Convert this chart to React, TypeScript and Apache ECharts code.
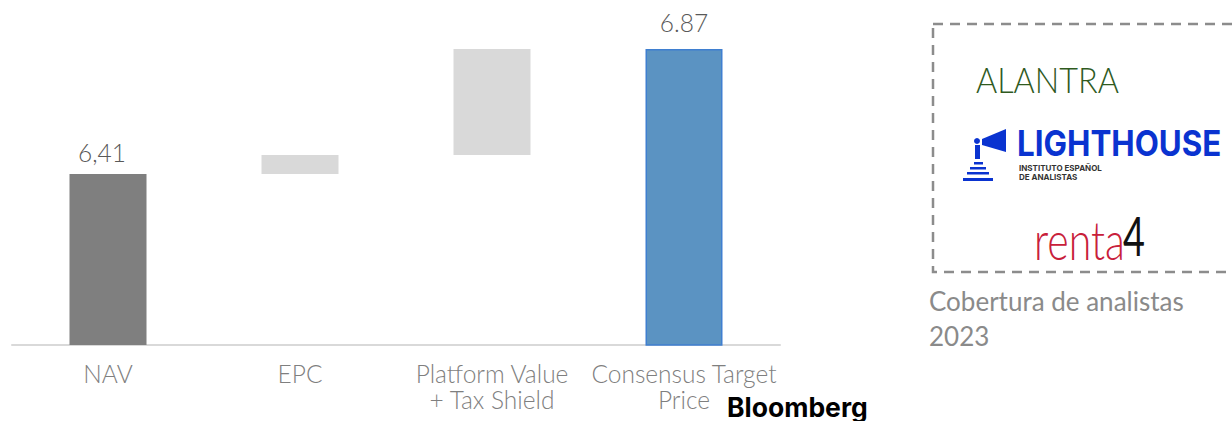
import React, { useEffect, useRef } from "react";
import * as echarts from "echarts";

const categories = ["NAV", "EPC", "Platform Value\n+ Tax Shield", "Consensus Target\nPrice"];
const navValue = 6.41;
const deltas = [0.07, 0.39];
const targetValue = 6.87;
const valueLabels = ["6,41", "", "", "6.87"];
const barColors = ["#7f7f7f", "#d9d9d9", "#d9d9d9", "#5b93c2"];
const coverageLines = ["Cobertura de analistas", "2023"];

export default function App() {
  const ref = useRef<HTMLDivElement>(null);
  useEffect(() => {
    document.body.style.margin = "0";
    if (!ref.current) return;
    const chart = echarts.init(ref.current, undefined, { renderer: "svg" });

    const bases: number[] = [0];
    const heights: number[] = [navValue];
    let cum = navValue;
    deltas.forEach((d) => {
      bases.push(cum);
      heights.push(d);
      cum += d;
    });
    bases.push(0);
    heights.push(targetValue);

    const font = "Lato";
    chart.setOption({
      animation: false,
      grid: { left: 12, right: 452, top: 49, bottom: 76 },
      xAxis: {
        type: "category",
        data: categories,
        axisLine: { show: true, lineStyle: { color: "#d9d9d9", width: 2 } },
        axisTick: { show: false },
        axisLabel: {
          color: "#7f7f7f",
          fontFamily: font,
          fontWeight: 300,
          fontSize: 24.5,
          lineHeight: 26,
          margin: 15,
          interval: 0,
        },
      },
      yAxis: { type: "value", min: 5.78, max: 6.87, show: false, splitLine: { show: false } },
      series: [
        {
          type: "bar",
          stack: "w",
          barWidth: 77,
          silent: true,
          itemStyle: { color: "transparent" },
          data: bases,
        },
        {
          type: "bar",
          stack: "w",
          barWidth: 77,
          data: heights.map((v, i) => ({
            value: v,
            itemStyle:
              i === 3
                ? { color: barColors[i], borderColor: "#3f7fd0", borderWidth: 1.5 }
                : { color: barColors[i] },
            label: {
              show: valueLabels[i] !== "",
              position: "top",
              distance: i === 3 ? 14 : 9,
              offset: i === 0 ? [-6, 0] : [0, 0],
              formatter: valueLabels[i],
              color: "#595959",
              fontFamily: font,
              fontWeight: 300,
              fontSize: 24.5,
            },
          })),
        },
      ],
      graphic: [
        {
          type: "rect",
          shape: { x: 933, y: 24, width: 320, height: 248 },
          style: { fill: "none", stroke: "#8c8c8c", lineWidth: 2.5, lineDash: [10, 7] },
        },
        {
          type: "text",
          x: 976,
          y: 61,
          scaleX: 0.9,
          style: {
            text: "ALANTRA",
            fill: "#2f5a1e",
            font: "300 36px Lato",
          },
        },
        // Lighthouse icon
        { type: "circle", shape: { cx: 977, cy: 141, r: 3 }, style: { fill: "#0a33d0" } },
        { type: "rect", shape: { x: 975, y: 145, width: 5, height: 14 }, style: { fill: "#0a33d0" } },
        {
          type: "polygon",
          shape: { points: [[982, 139], [1006, 129], [1006, 152], [982, 145]] },
          style: { fill: "#0a33d0" },
        },
        { type: "rect", shape: { x: 974, y: 162, width: 9, height: 2.5 }, style: { fill: "#0a33d0" } },
        { type: "rect", shape: { x: 970, y: 167, width: 16, height: 2.5 }, style: { fill: "#0a33d0" } },
        { type: "rect", shape: { x: 967, y: 172, width: 22, height: 2.5 }, style: { fill: "#0a33d0" } },
        { type: "rect", shape: { x: 963, y: 178, width: 30, height: 3 }, style: { fill: "#0a33d0" } },
        {
          type: "text",
          x: 1017,
          y: 126,
          scaleX: 0.895,
          style: { text: "LIGHTHOUSE", fill: "#0a33d0", font: "bold 35px Inter" },
        },
        {
          type: "text",
          x: 1019,
          y: 163,
          style: {
            text: "INSTITUTO ESPAÑOL\nDE ANALISTAS",
            fill: "#333333",
            font: "bold 8px Inter",
            lineHeight: 9,
          },
        },
        {
          type: "text",
          x: 1034,
          y: 212,
          scaleX: 0.76,
          style: { text: "renta", fill: "#c8203a", font: "300 54px Lato" },
        },
        {
          type: "text",
          x: 1123,
          y: 208,
          scaleX: 0.7,
          style: { text: "4", fill: "#111111", font: "400 54px Lato" },
        },
        {
          type: "text",
          x: 929,
          y: 283,
          style: {
            text: coverageLines.join("\n"),
            fill: "#8a8a8a",
            font: "400 26px Lato",
            lineHeight: 35,
          },
        },
        {
          type: "text",
          x: 727,
          y: 393,
          style: { text: "Bloomberg", fill: "#000000", font: "bold 26.5px Inter" },
        },
      ],
    });
    return () => chart.dispose();
  }, []);
  return <div ref={ref} style={{ width: 1232, height: 421 }} />;
}
